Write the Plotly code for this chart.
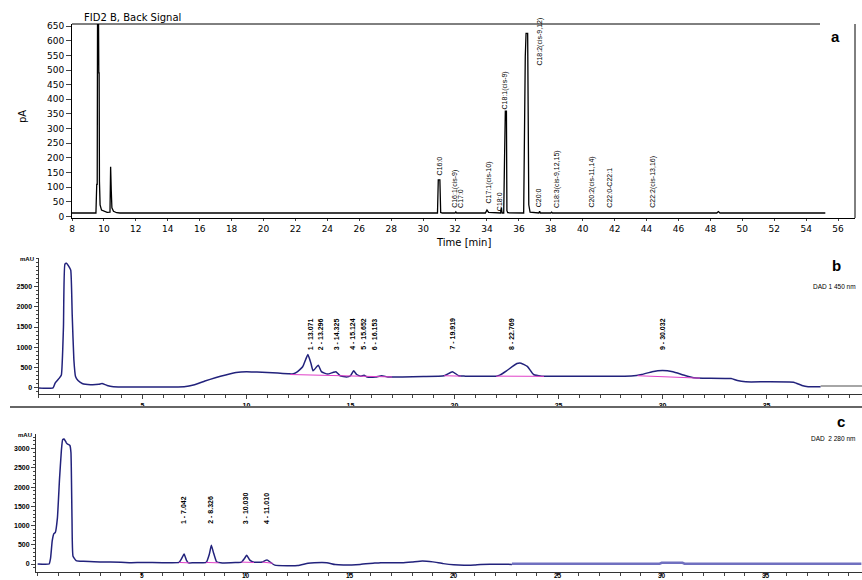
import plotly.graph_objects as go

W, H = 862, 580

# ---------------- Panel a : FID2 B, Back Signal ----------------
fid_time = [8.0, 9.5, 9.55, 9.58, 9.6, 9.66, 9.68, 9.7, 9.72, 9.76, 9.85, 10.0, 10.2, 10.38, 10.42, 10.46,
            10.5, 10.6, 10.8, 11.0, 30.9, 30.95, 31.05, 31.1, 31.2, 32.0, 32.05, 32.1, 33.9, 34.0, 34.1,
            34.85, 34.9, 34.95, 35.05, 35.1, 35.15, 35.22, 35.25, 35.3, 36.3, 36.4, 36.45, 36.55, 36.58,
            36.62, 36.7, 37.25, 37.3, 37.35, 38.0, 38.05, 38.1, 48.4, 48.5, 48.6, 55.2]
fid_signal = [12, 12, 110, 110, 690, 690, 490, 490, 120, 40, 22, 18, 14, 15, 170, 90,
              30, 18, 13, 12, 12, 125, 125, 14, 12, 12, 16, 12, 12, 22, 14,
              12, 30, 12, 12, 195, 360, 360, 20, 13, 12, 545, 625, 625, 240,
              40, 15, 12, 18, 12, 12, 15, 12, 12, 17, 12, 12]
fid_labels = ["C16:0", "C16:1(cis-9)", "C17:0", "C17:1(cis-10)", "C18:0", "C18:1(cis-9)",
              "C18:2(cis-9,12)", "C20:0", "C18:3(cis-9,12,15)", "C20:2(cis-11,14)", "C22:0-C22:1",
              "C22:2(cis-13,16)"]
fid_label_time = [31.0, 32.0, 32.35, 34.1, 34.75, 35.1, 37.3, 37.2, 38.4, 40.6, 41.7, 44.4]
fid_label_base = [132, 23, 23, 36, 13, 357, 507, 23, 23, 23, 23, 23]
fid_xticks = list(range(8, 57, 2))
fid_yticks = list(range(0, 651, 50))

# ---------------- Panel b : DAD1 450 nm ----------------
dad450_time = [0, 0.7, 0.8, 1.0, 1.1, 1.2, 1.27, 1.35, 1.45, 1.55, 1.62, 1.7, 1.78, 1.9, 2.1, 2.5, 2.9,
               3.05, 3.3, 3.6, 5, 6, 7, 7.5, 8, 8.5, 9, 9.5, 10, 10.5, 11, 11.5, 12, 12.2, 12.4, 12.7,
               12.95, 13.1, 13.2, 13.45, 13.6, 13.9, 14.15, 14.3, 14.5, 14.8, 15.0, 15.15, 15.3, 15.5,
               15.65, 15.8, 16.2, 16.5, 16.8, 17.5, 18.5, 19.5, 19.9, 20.2, 20.5, 22, 22.2, 22.5, 23.0,
               23.2, 23.5, 23.8, 24.2, 26, 28.5, 29.0, 29.5, 30.0, 30.5, 31.0, 31.5, 32, 33.3, 33.6,
               34, 35, 36.3, 36.7, 37, 37.6]
dad450_signal = [0, 0, 120, 240, 320, 1500, 3050, 3070, 3000, 2900, 1800, 700, 280, 180, 110, 80, 90,
                 110, 60, 30, 20, 20, 30, 80, 170, 250, 320, 380, 400, 390, 380, 365, 350, 340, 380, 520,
                 820, 600, 420, 560, 400, 340, 380, 400, 300, 270, 300, 420, 330, 290,
                 310, 270, 270, 300, 270, 270, 280, 300, 400, 300, 290, 290, 320, 420, 600,
                 610, 530, 330, 290, 290, 295, 330, 400, 430, 400, 320, 250, 240, 230, 180,
                 150, 150, 140, 60, 30, 30]
dad450_base_time = [12.1, 17.0, None, 19.5, 20.3, None, 22.0, 24.3, None, 28.8, 31.8]
dad450_base_val = [330, 270, None, 300, 290, None, 290, 285, None, 300, 240]
dad450_tail_time = [37.6, 39.6]
dad450_tail_val = [50, 50]
dad450_labels = ["1 - 13.071", "2 - 13.296", "3 - 14.325", "4 - 15.124", "5 - 15.652", "6 - 16.153",
                 "7 - 19.919", "8 - 22.769", "9 - 30.032"]
dad450_label_time = [13.071, 13.55, 14.325, 15.124, 15.652, 16.153, 19.919, 22.769, 30.032]
dad450_xticks = [5, 10, 15, 20, 25, 30, 35]
dad450_yticks = [0, 500, 1000, 1500, 2000, 2500]

# ---------------- Panel c : DAD2 280 nm ----------------
dad280_time = [0, 0.55, 0.62, 0.7, 0.78, 0.85, 0.95, 1.05, 1.14, 1.2, 1.27, 1.33, 1.38, 1.43, 1.55, 1.6,
               1.65, 1.7, 1.85, 2.2, 3.0, 4.0, 4.5, 5.0, 6.0, 6.8, 6.9, 7.04, 7.15, 7.25, 7.5, 8.1, 8.25,
               8.35, 8.45, 8.6, 8.8, 9.5, 9.8, 9.95, 10.05, 10.2, 10.4, 10.8, 10.95, 11.05, 11.2, 11.4,
               12.0, 12.5, 13.0, 13.3, 13.9, 14.3, 14.7, 15.5, 16.2, 16.5, 17.5, 18.0, 18.5, 19.0,
               19.5, 20.0, 20.5, 21.0, 21.3, 22.8]
dad280_signal = [0, 0, 150, 600, 790, 820, 1200, 2200, 2950, 3230, 3250, 3200, 3150, 3120, 3080, 2900,
                 1200, 200, 90, 70, 55, 45, 35, 40, 35, 40, 120, 260, 100, 30, 35, 40, 250,
                 485, 300, 60, 30, 40, 50, 150, 225, 100, 45, 50, 95, 100, 40, -30,
                 -45, -40, 20, 35, 35, -15, -25, -10, 25, 35, 35, 55, 80, 55,
                 10, -20, -30, -25, -10, -10]
dad280_tail_time = [22.8, 29.9, 30.0, 31.0, 31.1, 39.6]
dad280_tail_val = [8, 8, 30, 30, 8, 8]
dad280_base_time = [6.8, 7.3, None, 8.1, 8.7, None, 9.8, 10.4, None, 10.8, 11.3]
dad280_base_val = [40, 30, None, 40, 30, None, 50, 40, None, 50, 20]
dad280_labels = ["1 - 7.042", "2 - 8.326", "3 - 10.030", "4 - 11.010"]
dad280_label_time = [7.042, 8.326, 10.030, 11.010]
dad280_xticks = [5, 10, 15, 20, 25, 30, 35]
dad280_yticks = [0, 500, 1000, 1500, 2000, 2500, 3000]


def px_x(p):
    return p / W


def px_y(p):
    return 1 - p / H


NAVY = "#22227c"
PINK = "#e040c8"
NARROW = "Liberation Sans Narrow, Arial Narrow, Liberation Sans, Arial, sans-serif"
PLAIN = "Liberation Sans, Arial, sans-serif"
WIDE = "DejaVu Sans, Verdana, sans-serif"

fig = go.Figure()

fig.add_trace(go.Scatter(x=fid_time, y=fid_signal, mode="lines",
                         line=dict(color="black", width=1.3), xaxis="x", yaxis="y"))

fig.add_trace(go.Scatter(x=dad450_time, y=dad450_signal, mode="lines", line_shape="spline",
                         line=dict(color=NAVY, width=1.5, smoothing=0.4), xaxis="x2", yaxis="y2"))
fig.add_trace(go.Scatter(x=dad450_base_time, y=dad450_base_val, mode="lines",
                         line=dict(color=PINK, width=1), xaxis="x2", yaxis="y2", connectgaps=False))
fig.add_trace(go.Scatter(x=dad450_tail_time, y=dad450_tail_val, mode="lines",
                         line=dict(color="#888888", width=1.5), xaxis="x2", yaxis="y2"))

fig.add_trace(go.Scatter(x=dad280_time, y=dad280_signal, mode="lines", line_shape="spline",
                         line=dict(color=NAVY, width=1.5, smoothing=0.4), xaxis="x3", yaxis="y3"))
fig.add_trace(go.Scatter(x=dad280_tail_time, y=dad280_tail_val, mode="lines",
                         line=dict(color="#7070c0", width=2.5), xaxis="x3", yaxis="y3"))
fig.add_trace(go.Scatter(x=dad280_base_time, y=dad280_base_val, mode="lines",
                         line=dict(color=PINK, width=1), xaxis="x3", yaxis="y3", connectgaps=False))

small_tick_font = dict(family=NARROW, size=7, color="black", weight="bold")

fig.update_layout(
    width=W, height=H, margin=dict(l=0, r=0, t=0, b=0, autoexpand=False),
    paper_bgcolor="white", plot_bgcolor="white", showlegend=False,
    xaxis=dict(domain=[px_x(72), px_x(855)], range=[8, 57.06], anchor="y",
               tickmode="array", tickvals=fid_xticks, ticks="outside", ticklen=2,
               showline=True, linecolor="black", linewidth=1, showgrid=False, zeroline=False,
               tickfont=dict(family=WIDE, size=9, color="black")),
    yaxis=dict(domain=[px_y(218), px_y(24)], range=[-5, 657], anchor="x",
               tickmode="array", tickvals=fid_yticks, ticks="outside", ticklen=5,
               showline=True, linecolor="black", linewidth=1, showgrid=False, zeroline=False,
               tickfont=dict(family=WIDE, size=9, color="black")),
    xaxis2=dict(domain=[px_x(38.5), 1], range=[0, 39.59], anchor="y2",
                tickmode="array", tickvals=dad450_xticks, ticks="outside", ticklen=4,
                minor=dict(tickmode="linear", tick0=0, dtick=1, ticks="outside", ticklen=3),
                showline=True, linecolor="#333333", linewidth=1.2, showgrid=False, zeroline=False,
                tickfont=small_tick_font),
    yaxis2=dict(domain=[px_y(394), px_y(258)], range=[-150, 3200], anchor="x2",
                tickmode="array", tickvals=dad450_yticks, ticks="outside", ticklen=4,
                minor=dict(tickmode="linear", tick0=0, dtick=100, ticks="outside", ticklen=2),
                showline=True, linecolor="#333333", linewidth=1, showgrid=False, zeroline=False,
                tickfont=small_tick_font),
    xaxis3=dict(domain=[px_x(36), 1], range=[-0.08, 39.63], anchor="y3",
                tickmode="array", tickvals=dad280_xticks, ticks="outside", ticklen=3,
                minor=dict(tickmode="linear", tick0=0, dtick=1, ticks="outside", ticklen=3),
                showticklabels=False,
                showline=True, linecolor="#333333", linewidth=1.2, showgrid=False, zeroline=False),
    yaxis3=dict(domain=[px_y(571.5), px_y(434)], range=[-195, 3380], anchor="x3",
                tickmode="array", tickvals=dad280_yticks, ticks="outside", ticklen=4,
                minor=dict(tickmode="linear", tick0=0, dtick=100, ticks="outside", ticklen=2),
                showline=True, linecolor="#333333", linewidth=1, showgrid=False, zeroline=False,
                tickfont=small_tick_font),
)

ann = []
# Panel a peak labels
for name, t, b in zip(fid_labels, fid_label_time, fid_label_base):
    ann.append(dict(x=t, y=b, xref="x", yref="y", text=name, showarrow=False, textangle=-90,
                    xanchor="center", yanchor="bottom",
                    font=dict(family=NARROW, size=7, color="black")))
# Panel b peak labels
for name, t in zip(dad450_labels, dad450_label_time):
    ann.append(dict(x=t, y=890, xref="x2", yref="y2", text=name, showarrow=False, textangle=-90,
                    xanchor="center", yanchor="bottom",
                    font=dict(family=NARROW, size=7, color="black", weight="bold")))
# Panel c peak labels
for name, t in zip(dad280_labels, dad280_label_time):
    ann.append(dict(x=t, y=990, xref="x3", yref="y3", text=name, showarrow=False, textangle=-90,
                    xanchor="center", yanchor="bottom",
                    font=dict(family=NARROW, size=7, color="black", weight="bold")))
# Panel c x tick labels (sit tight under the axis, as in the reference)
for t in dad280_xticks:
    ann.append(dict(x=t, y=px_y(575.5), xref="x3", yref="paper", text=str(t), showarrow=False,
                    xanchor="center", yanchor="middle",
                    font=dict(family=NARROW, size=6.5, color="black", weight="bold")))


def paper_text(x, y, text, size, family, bold=False, angle=0, xanchor="center"):
    f = dict(family=family, size=size, color="black")
    if bold:
        f["weight"] = "bold"
    return dict(x=px_x(x), y=px_y(y), xref="paper", yref="paper", text=text, showarrow=False,
                textangle=angle, xanchor=xanchor, yanchor="middle", font=f)


ann += [
    paper_text(82, 18, "FID2 B, Back Signal", 10, WIDE, xanchor="left"),
    paper_text(463, 242, "Time [min]", 10, WIDE),
    paper_text(22, 117, "pA", 10, WIDE, angle=-90),
    paper_text(835, 37, "a", 15, NARROW, bold=True),
    paper_text(836, 266, "b", 15, NARROW, bold=True),
    paper_text(811, 286, "DAD 1 450 nm", 6.5, PLAIN, xanchor="left"),
    paper_text(841, 421, "c", 15, NARROW, bold=True),
    paper_text(809, 438, "DAD  2 280 nm", 6.5, PLAIN, xanchor="left"),
    paper_text(36, 259, "mAU", 6, NARROW, bold=True, xanchor="right"),
    paper_text(34, 435, "mAU", 6, NARROW, bold=True, xanchor="right"),
]
fig.update_layout(annotations=ann)

shapes = [
    dict(type="line", xref="paper", yref="paper", x0=px_x(72), x1=px_x(820), y0=px_y(24), y1=px_y(24),
         line=dict(color="black", width=1)),
    dict(type="line", xref="paper", yref="paper", x0=px_x(855), x1=px_x(855), y0=px_y(24), y1=px_y(218),
         line=dict(color="black", width=1)),
    dict(type="line", xref="paper", yref="paper", x0=px_x(10), x1=1, y0=px_y(407), y1=px_y(407),
         line=dict(color="#666666", width=2)),
]
fig.update_layout(shapes=shapes)

# remove the browser's default 8px page margin so the 862x580 figure fills the window exactly
fig.write_html("out.html", config={"displayModeBar": False},
               post_script="document.body.style.margin='0';document.body.style.overflow='hidden';")
